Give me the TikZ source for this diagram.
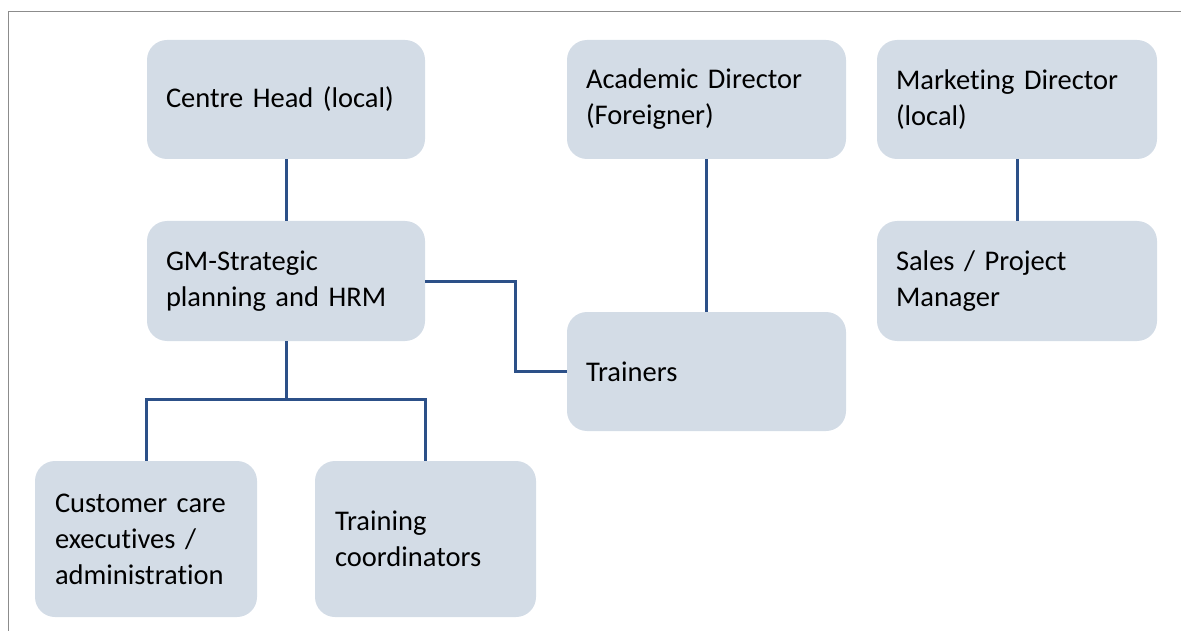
\documentclass[tikz,border=0pt]{standalone}
\usepackage{fontspec}
\setmainfont{Carlito}[RawFeature=-liga]
\definecolor{boxfill}{HTML}{D3DCE6}
\definecolor{linkblue}{HTML}{2C5088}
\definecolor{framegray}{HTML}{8C8C8C}
\tikzset{
  orgbox/.style={fill=boxfill, rounded corners=20pt, align=left,
    inner xsep=19pt, inner ysep=0pt, text width=240pt, minimum height=119pt,
    font=\fontsize{28.5}{36}\selectfont},
  smallbox/.style={orgbox, inner xsep=20pt, text width=182pt, minimum height=156pt},
  link/.style={linkblue, line width=3pt}
}
\begin{document}
\begin{tikzpicture}[x=1pt,y=-1pt]
  \useasboundingbox (0,0) rectangle (1181,631);
  \draw[framegray, line width=1.2pt] (8.5,631) -- (8.5,11.5) -- (1181,11.5);
  \node[orgbox] (head) at (286,99.5) {Centre Head (local)};
  \node[orgbox, text width=241pt] (acad) at (706.5,99.5) {Academic Director\\(Foreigner)};
  \node[orgbox, text width=242pt] (mkt) at (1017,99.5) {Marketing Director\\(local)};
  \node[orgbox, minimum height=120pt] (gm) at (286,281) {GM-Strategic\\planning and HRM};
  \node[orgbox, text width=242pt, minimum height=120pt] (sales) at (1017,281) {Sales / Project\\Manager};
  \node[orgbox, text width=241pt] (trainers) at (706.5,371.5) {Trainers};
  \node[smallbox] (cust) at (146,539) {Customer care\\executives /\\administration};
  \node[smallbox, text width=181pt] (coord) at (425.5,539) {Training\\coordinators};
  \draw[link] (head.south) -- (gm.north);
  \draw[link] (acad.south) -- (trainers.north);
  \draw[link] (mkt.south) -- (sales.north);
  \draw[link] (gm.east) -- ++(90,0) |- (trainers.west);
  \draw[link] (gm.south) -- ++(0,58) coordinate (split);
  \draw[link] (cust.north) |- (split) -| (coord.north);
\end{tikzpicture}
\end{document}
